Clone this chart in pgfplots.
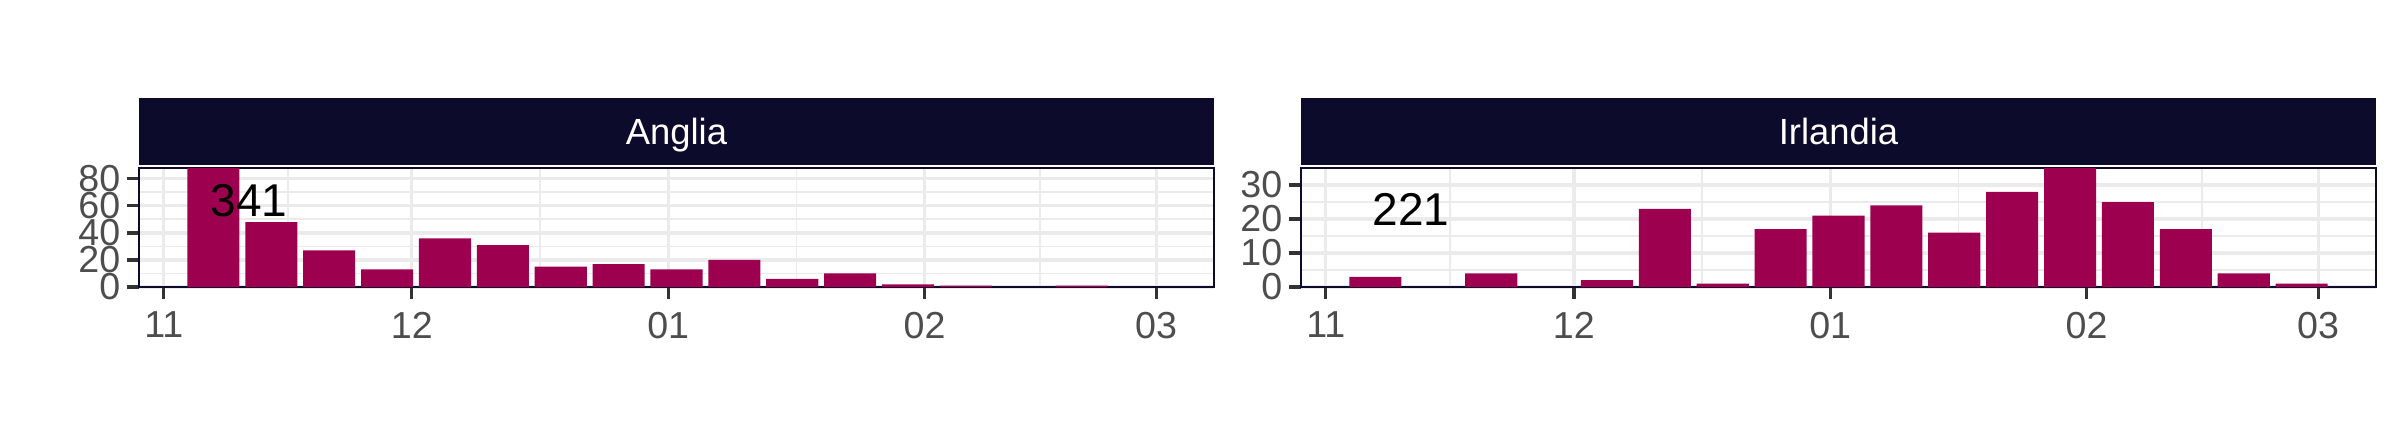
\documentclass[border=0pt]{standalone}
\usepackage{fontspec}
\setmainfont{Liberation Sans}
\usepackage{pgfplots}
\pgfplotsset{compat=1.18}
\definecolor{barcol}{HTML}{9E0050}
\definecolor{stripcol}{HTML}{0D0B2B}
\definecolor{gridcol}{HTML}{EBEBEB}
\definecolor{tickcol}{HTML}{333333}
\definecolor{labcol}{HTML}{4D4D4D}
\pgfplotsset{panel/.style={
  scale only axis, width=268.75pt, height=29.75pt,
  anchor=south west,
  xmin=-3, xmax=127, ymin=0,
  xtick={0,30,61,92,120}, xticklabels={11,12,01,02,03},
  minor xtick={15,45.5,76.5,106},
  grid=both,
  major grid style={gridcol, line width=0.8pt},
  minor grid style={gridcol, line width=0.45pt},
  tick align=outside, major tick length=3pt, minor tick length=0pt,
  xtick pos=bottom, ytick pos=left,
  tick style={tickcol, line width=0.8pt},
  axis line style={stripcol, line width=0.5pt},
  xticklabel style={font=\fontsize{9.4}{10}\selectfont, text=labcol, inner sep=1.5pt, yshift=-1.5pt},
  yticklabel style={font=\fontsize{9.4}{10}\selectfont, text=labcol, inner sep=1.5pt},
  /pgf/number format/assume math mode=true,
  ybar, bar width=6.3,
}}
\begin{document}
\begin{tikzpicture}
\path[use as bounding box] (0,0) rectangle (600pt,105pt);
\begin{axis}[panel, at={(34.75pt,33.25pt)}, ymax=88,
  ytick={0,20,40,60,80}, minor ytick={10,30,50,70}]
\addplot[fill=barcol, draw=none] coordinates {(6,101) (13,48) (20,27) (27,13) (34,36) (41,31) (48,15) (55,17) (62,13) (69,20) (76,6) (83,10) (90,2) (97,1) (111,1)};
\node[anchor=base, font=\fontsize{11.5}{12}\selectfont] at (axis cs:10.3,51.9) {341};
\end{axis}
\begin{axis}[panel, at={(325.25pt,33.25pt)}, ymax=35,
  ytick={0,10,20,30}, minor ytick={5,15,25}]
\addplot[fill=barcol, draw=none] coordinates {(6,3) (20,4) (34,2) (41,23) (48,1) (55,17) (62,21) (69,24) (76,16) (83,28) (90,35) (97,25) (104,17) (111,4) (118,1)};
\node[anchor=base, font=\fontsize{11.5}{12}\selectfont] at (axis cs:10.3,18.1) {221};
\end{axis}
\fill[stripcol] (34.75pt,63.75pt) rectangle (303.5pt,80.5pt);
\node[anchor=base, text=white, font=\fontsize{9.1}{10}\selectfont] at (169.125pt,69pt) {Anglia};
\fill[stripcol] (325.25pt,63.75pt) rectangle (594pt,80.5pt);
\node[anchor=base, text=white, font=\fontsize{9.1}{10}\selectfont] at (459.625pt,69pt) {Irlandia};
\end{tikzpicture}
\end{document}
